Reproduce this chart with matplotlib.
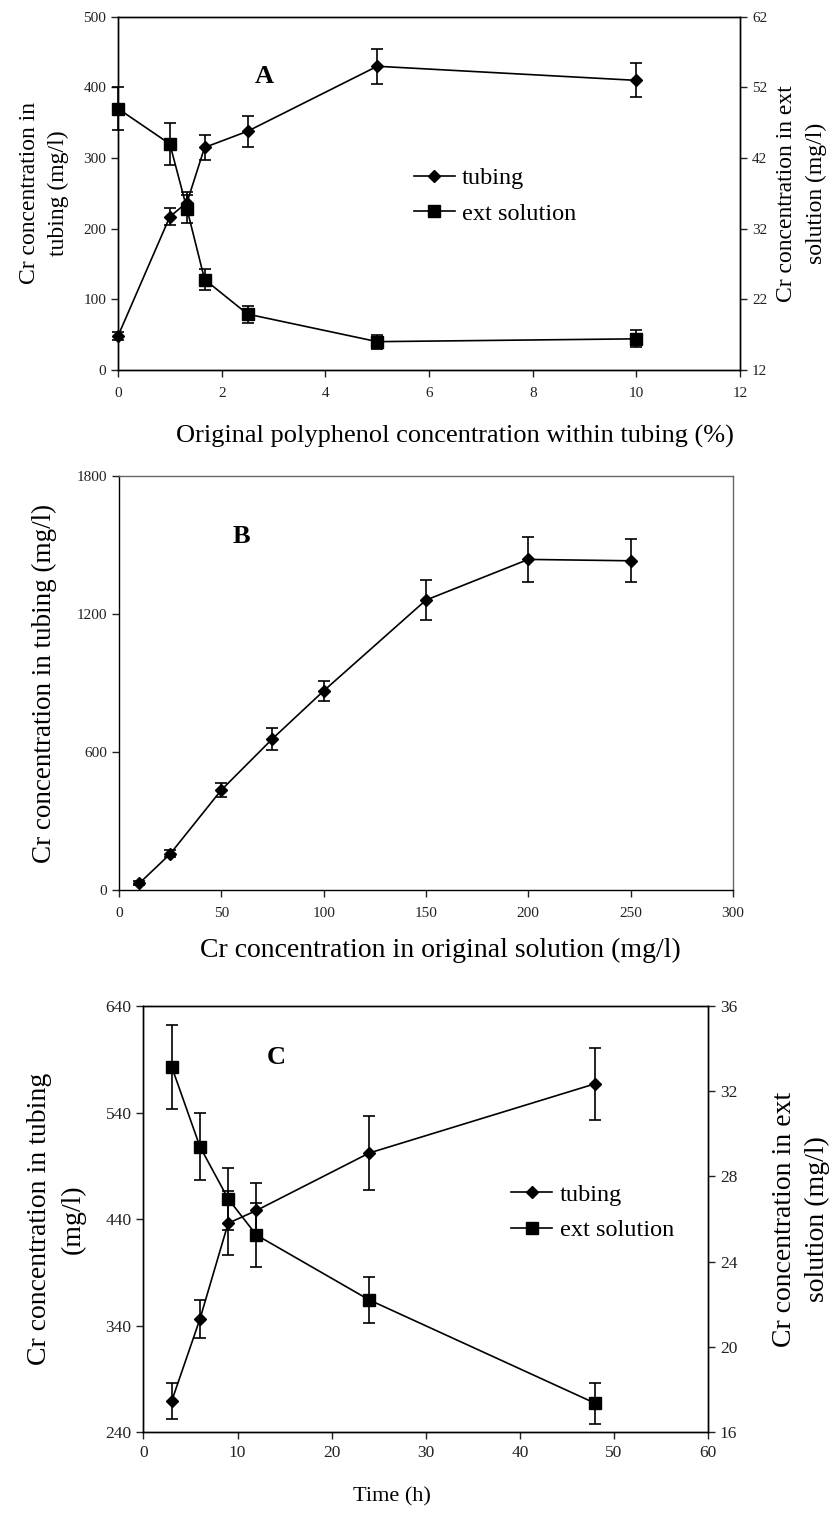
import matplotlib
matplotlib.use("Agg")
from matplotlib import pyplot as plt

plt.rcParams["font.family"] = ["Liberation Serif", "DejaVu Serif"]

# panel A
a_x = [0, 1, 1.33, 1.67, 2.5, 5, 10]
a_tub = [48, 217, 237, 315, 338, 430, 410]
a_tub_err = [5, 12, 15, 18, 22, 25, 24]
a_ext = [49, 44, 34.8, 24.8, 19.9, 16.0, 16.4]
a_ext_err = [3, 3, 2, 1.5, 1.2, 1.0, 1.2]

# panel B
b_x = [10, 25, 50, 75, 100, 150, 200, 250]
b_tub = [30, 157, 435, 658, 866, 1261, 1438, 1432]
b_err = [8, 15, 30, 48, 43, 87, 97, 93]

# panel C
c_x = [3, 6, 9, 12, 24, 48]
c_tub = [269, 346, 436, 448, 502, 567]
c_tub_err = [17, 18, 30, 26, 35, 34]
c_ext = [33.15, 29.4, 26.95, 25.25, 22.2, 17.35]
c_ext_err = [1.97, 1.59, 1.46, 1.5, 1.08, 0.96]

def style(ax, fs, xpad=7, right=False):
    ax.tick_params(direction="out", length=5, width=1, labelsize=fs, colors="#222222")
    ax.tick_params(axis="x", pad=xpad)
    for s in ax.spines.values():
        s.set_linewidth(1)
    if not right:
        ax.spines["top"].set_color("#666666")
        ax.spines["right"].set_color("#666666")

def draw(ax, x, y, e, marker, ms):
    ax.errorbar(x, y, yerr=e, color="black", marker=marker, ms=ms, lw=1.2,
                elinewidth=1.2, capsize=4, capthick=1.2, clip_on=False, zorder=3)
    line, = ax.plot([], [], color="black", marker=marker, ms=ms, lw=1.2)
    return line

fig = plt.figure(figsize=(8.34, 15.16), dpi=100)

# ---- A
ax1 = fig.add_axes([0.1415, 0.756, 0.746, 0.2329])
ax2 = ax1.twinx()
l1 = draw(ax1, a_x, a_tub, a_tub_err, "D", 6)
l2 = draw(ax2, a_x, a_ext, a_ext_err, "s", 8)
ax1.set_xlim(0, 12)
ax1.set_xticks(range(0, 13, 2))
ax1.set_ylim(0, 500)
ax1.set_yticks(range(0, 501, 100))
ax2.set_ylim(12, 62)
ax2.set_yticks(range(12, 63, 10))
style(ax1, 11, right=True)
style(ax2, 11, right=True)
ax1.set_ylabel("Cr concentration in\ntubing (mg/l)", fontsize=17, labelpad=10, linespacing=1.5)
ax2.set_ylabel("Cr concentration in ext\nsolution (mg/l)", fontsize=17, labelpad=6,
               linespacing=1.55)
ax1.set_xlabel("Original polyphenol concentration within tubing (%)", fontsize=19, labelpad=16)
ax1.xaxis.set_label_coords(0.542, -0.155)
ax1.text(0.235, 0.83, "A", transform=ax1.transAxes, fontsize=19, fontweight="bold",
         ha="center", va="center")
ax2.legend([l1, l2], ["tubing", "ext solution"], loc="center left", bbox_to_anchor=(0.475, 0.493),
           frameon=False, fontsize=17.5, handlelength=1.7, handletextpad=0.3, labelspacing=0.55,
           borderpad=0, borderaxespad=0)

# ---- B
bx = fig.add_axes([0.1427, 0.4129, 0.736, 0.273])
draw(bx, b_x, b_tub, b_err, "D", 6)
bx.set_xlim(0, 300)
bx.set_xticks(range(0, 301, 50))
bx.set_ylim(0, 1800)
bx.set_yticks(range(0, 1801, 600))
style(bx, 11)
bx.set_ylabel("Cr concentration in tubing (mg/l)", fontsize=19.5, labelpad=14)
bx.set_xlabel("Cr concentration in original solution (mg/l)", fontsize=20, labelpad=12)
bx.xaxis.set_label_coords(0.523, -0.115)
bx.text(0.2, 0.855, "B", transform=bx.transAxes, fontsize=19, fontweight="bold",
        ha="center", va="center")

# ---- C
cx = fig.add_axes([0.172, 0.0554, 0.677, 0.281])
cx2 = cx.twinx()
m1 = draw(cx, c_x, c_tub, c_tub_err, "D", 6)
m2 = draw(cx2, c_x, c_ext, c_ext_err, "s", 8)
cx.set_xlim(0, 60)
cx.set_xticks(range(0, 61, 10))
cx.set_ylim(240, 640)
cx.set_yticks(range(240, 641, 100))
cx2.set_ylim(16, 36)
cx2.set_yticks(range(16, 37, 4))
style(cx, 12.5, xpad=4, right=True)
style(cx2, 12.5, xpad=4, right=True)
cx.set_ylabel("Cr concentration in tubing\n(mg/l)", fontsize=20, labelpad=14, linespacing=1.45)
cx2.set_ylabel("Cr concentration in ext\nsolution (mg/l)", fontsize=20, labelpad=25,
               linespacing=1.4)
cx.set_xlabel("Time (h)", fontsize=16, labelpad=20)
cx.xaxis.set_label_coords(0.44, -0.13)
cx.text(0.235, 0.88, "C", transform=cx.transAxes, fontsize=19, fontweight="bold",
        ha="center", va="center")
cx2.legend([m1, m2], ["tubing", "ext solution"], loc="center left", bbox_to_anchor=(0.651, 0.515),
           frameon=False, fontsize=17.5, handlelength=1.7, handletextpad=0.3, labelspacing=0.55,
           borderpad=0, borderaxespad=0)

fig.savefig("out.png", dpi=100)
